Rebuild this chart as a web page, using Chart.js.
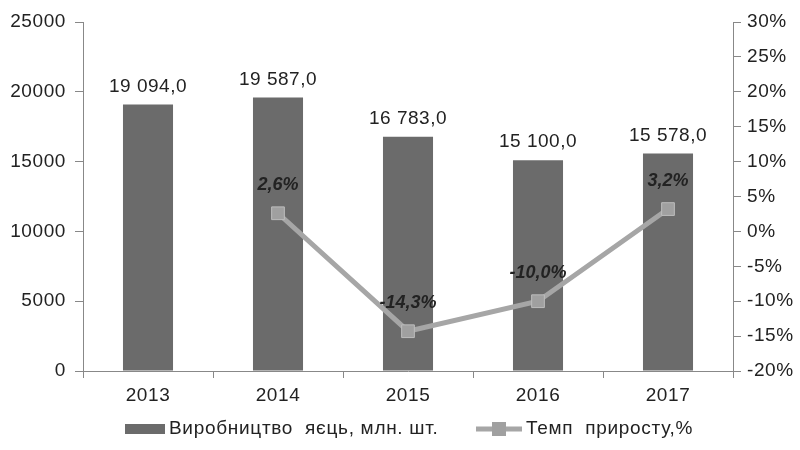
<!DOCTYPE html>
<html>
<head>
<meta charset="utf-8">
<script src="https://cdn.jsdelivr.net/npm/chart.js@4/dist/chart.umd.min.js"></script>
<style>
  html, body { margin: 0; padding: 0; background: #fff; }
  #wrap { width: 800px; height: 450px; }
</style>
</head>
<body>
<div id="wrap"><canvas id="eggs-chart" width="800" height="450"></canvas></div>
<script>
var years = ['2013', '2014', '2015', '2016', '2017']
var production = [19094, 19587, 16783, 15100, 15578]
var growth = [null, 2.6, -14.3, -10.0, 3.2]
var productionLabel = 'Виробництво  яєць, млн. шт.'
var growthLabel = 'Темп  приросту,%'

var FONT = '"Liberation Sans", Arial, sans-serif'
var barColor = '#6b6b6b'
var lineColor = '#a6a6a6'

function fmtNum(v) {
    var s = v.toFixed(1).replace('.', ',')
    var parts = s.split(',')
    return parts[0].replace(/\B(?=(\d{3})+(?!\d))/g, ' ') + ',' + parts[1]
}

// the source picture has slightly wider text
var spacingPlugin = {
    id: 'spacing',
    beforeDraw(chart) { chart.ctx.letterSpacing = '0.6px' }
}

var labelsPlugin = {
    id: 'labels',
    afterDatasetsDraw(chart) {
        var ctx = chart.ctx
        ctx.save()
        ctx.letterSpacing = '0.5px'
        ctx.textAlign = 'center'
        ctx.textBaseline = 'middle'
        ctx.fillStyle = '#222'
        ctx.font = '19px ' + FONT
        chart.getDatasetMeta(0).data.forEach(function (bar, i) {
            ctx.fillText(fmtNum(production[i]), bar.x, bar.y - 18)
        })
        ctx.letterSpacing = '0px'
        ctx.font = 'italic bold 18px ' + FONT
        ctx.fillStyle = '#222'
        chart.getDatasetMeta(1).data.forEach(function (pt, i) {
            if (growth[i] === null) return
            ctx.fillText(growth[i].toFixed(1).replace('.', ',') + '%', pt.x, pt.y - 28)
        })
        // legend
        ctx.letterSpacing = '0.7px'
        var ly = 429
        ctx.fillStyle = barColor
        ctx.fillRect(125, ly - 5, 40, 10)
        ctx.textAlign = 'left'
        ctx.font = '19px ' + FONT
        ctx.fillStyle = '#222'
        ctx.fillText(productionLabel, 169, ly)
        ctx.strokeStyle = lineColor
        ctx.lineWidth = 5
        ctx.beginPath()
        ctx.moveTo(476, ly)
        ctx.lineTo(522, ly)
        ctx.stroke()
        ctx.fillStyle = '#a0a0a0'
        ctx.fillRect(492, ly - 7, 14, 14)
        ctx.fillStyle = '#222'
        ctx.fillText(growthLabel, 526, ly)
        ctx.restore()
    }
}

var ctx = document.getElementById('eggs-chart').getContext('2d')

new Chart(ctx, {
    type: 'bar',
    data: {
        labels: years,
        datasets: [{
            type: 'bar',
            label: productionLabel,
            data: production,
            backgroundColor: barColor,
            barPercentage: 0.385,
            categoryPercentage: 1,
            yAxisID: 'y',
            order: 2
        }, {
            type: 'line',
            label: growthLabel,
            data: growth,
            borderColor: lineColor,
            borderWidth: 5,
            pointStyle: 'rect',
            pointRadius: 9,
            pointBackgroundColor: '#a0a0a0',
            pointBorderColor: '#bcbcbc',
            pointBorderWidth: 1,
            yAxisID: 'y1',
            order: 1
        }]
    },
    options: {
        responsive: false,
        animation: false,
        layout: { padding: { top: 22, bottom: 49, left: 0, right: 0 } },
        plugins: {
            legend: { display: false },
            tooltip: { enabled: false }
        },
        scales: {
            x: {
                grid: { offset: true, drawOnChartArea: false, tickLength: 7, color: '#888' },
                border: { color: '#888', width: 1 },
                ticks: { color: '#222', font: { family: FONT, size: 19 }, padding: 6 },
                afterFit: function (s) { s.height = 30 }
            },
            y: {
                position: 'left',
                min: 0, max: 25000,
                ticks: {
                    stepSize: 5000, color: '#222', font: { family: FONT, size: 19 }, padding: 9,
                    callback: function (v) { return String(v) }
                },
                grid: { drawOnChartArea: false, tickLength: 8, color: '#888' },
                border: { color: '#888', width: 1 },
                afterFit: function (s) { s.width = 83 }
            },
            y1: {
                position: 'right',
                min: -20, max: 30,
                ticks: {
                    stepSize: 5, color: '#222', font: { family: FONT, size: 19 }, padding: 6,
                    callback: function (v) { return v + '%' }
                },
                grid: { drawOnChartArea: false, tickLength: 8, color: '#888' },
                border: { color: '#888', width: 1 },
                afterFit: function (s) { s.width = 67 }
            }
        }
    },
    plugins: [spacingPlugin, labelsPlugin]
})
</script>
</body>
</html>
